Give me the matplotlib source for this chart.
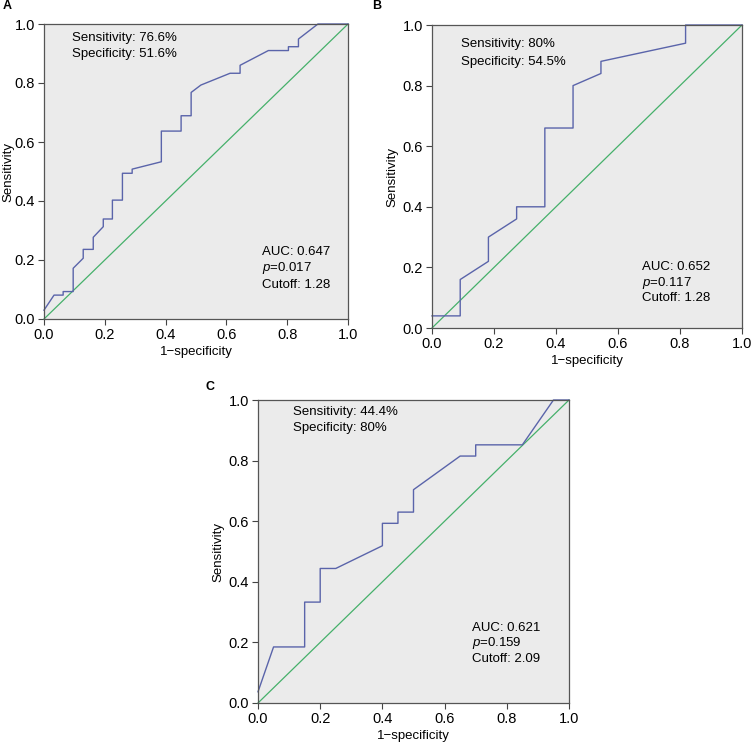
import numpy as np
import matplotlib
matplotlib.use("Agg")
import matplotlib.pyplot as plt

plt.rcParams['font.family'] = ['Liberation Sans', 'DejaVu Sans']
plt.rcParams['mathtext.fontset'] = 'custom'
plt.rcParams['mathtext.it'] = 'Liberation Sans:italic'
plt.rcParams['mathtext.rm'] = 'Liberation Sans'

# ROC points (1-specificity, sensitivity)
fpr_a = [0, 0.033, 0.063, 0.063, 0.096, 0.096, 0.129, 0.129, 0.162, 0.162, 0.195, 0.195,
         0.225, 0.225, 0.258, 0.258, 0.290, 0.290, 0.386, 0.386, 0.451, 0.451, 0.484, 0.484,
         0.516, 0.612, 0.645, 0.645, 0.738, 0.804, 0.804, 0.837, 0.837, 0.901, 1.0]
tpr_a = [0.03, 0.081, 0.081, 0.093, 0.093, 0.172, 0.206, 0.236, 0.236, 0.277, 0.313, 0.339,
         0.339, 0.403, 0.403, 0.494, 0.494, 0.508, 0.533, 0.637, 0.637, 0.689, 0.689, 0.768,
         0.793, 0.833, 0.833, 0.860, 0.910, 0.910, 0.923, 0.923, 0.949, 1.0, 1.0]

fpr_b = [0, 0.091, 0.091, 0.182, 0.182, 0.273, 0.273, 0.364, 0.364, 0.455, 0.455,
         0.545, 0.545, 0.818, 0.818, 1.0]
tpr_b = [0.04, 0.04, 0.16, 0.22, 0.30, 0.36, 0.40, 0.40, 0.66, 0.66, 0.80,
         0.84, 0.88, 0.94, 1.0, 1.0]

fpr_c = [0, 0.05, 0.15, 0.15, 0.20, 0.20, 0.25, 0.40, 0.40, 0.45, 0.45, 0.50, 0.50,
         0.65, 0.70, 0.70, 0.85, 0.95, 1.0]
tpr_c = [0.037, 0.185, 0.185, 0.333, 0.333, 0.444, 0.444, 0.519, 0.593, 0.593, 0.630,
         0.630, 0.704, 0.815, 0.815, 0.852, 0.852, 1.0, 1.0]

top_notes = [["Sensitivity: 76.6%", "Specificity: 51.6%"],
             ["Sensitivity: 80%", "Specificity: 54.5%"],
             ["Sensitivity: 44.4%", "Specificity: 80%"]]
bottom_notes = [["AUC: 0.647", "$p$=0.017", "Cutoff: 1.28"],
                ["AUC: 0.652", "$p$=0.117", "Cutoff: 1.28"],
                ["AUC: 0.621", "$p$=0.159", "Cutoff: 2.09"]]
letters = ["A", "B", "C"]

W, H = 752, 744
fig = plt.figure(figsize=(W / 100, H / 100), dpi=100)

# axes boxes in pixels: left, right, top, bottom
boxes = [(44, 348, 24, 319), (432, 742, 25, 328), (258, 569, 400, 703)]
top_pos = [(0.093, 0.952, 0.898), (0.093, 0.937, 0.879), (0.111, 0.959, 0.907)]
bot_pos = [(0.718, 0.227, 0.173, 0.115), (0.676, 0.202, 0.149, 0.098), (0.689, 0.249, 0.198, 0.145)]
ylab_off = [36, 40, 40]
letter_pos = [(3, 6), (372, 6), (205, 387)]
curves = [(fpr_a, tpr_a), (fpr_b, tpr_b), (fpr_c, tpr_c)]

for i in range(3):
    l, r, t, b = boxes[i]
    ax = fig.add_axes([l / W, 1 - b / H, (r - l) / W, (b - t) / H])
    ax.set_facecolor('#ebebeb')
    ax.plot([0, 1], [0, 1], color='#45b06a', lw=0.9, clip_on=False)
    ax.plot(curves[i][0], curves[i][1], color='#5a64aa', lw=1.0, clip_on=False)
    ax.set_xlim(0, 1)
    ax.set_ylim(0, 1)
    ticks = np.arange(0, 1.01, 0.2)
    ax.set_xticks(ticks)
    ax.set_yticks(ticks)
    ax.set_xticklabels(['%.1f' % v for v in ticks])
    ax.set_yticklabels(['%.1f' % v for v in ticks])
    ax.tick_params(labelsize=10.5, length=4, width=0.8, color='#444444')
    ax.tick_params(axis='x', pad=2.5)
    ax.tick_params(axis='y', pad=2.5)
    for s in ax.spines.values():
        s.set_color('#555555')
        s.set_linewidth(0.9)
    ax.set_xlabel('1\u2212specificity', fontsize=9.5, labelpad=3)
    ax.set_ylabel('Sensitivity', fontsize=9.5, va='center')
    ax.yaxis.set_label_coords(-ylab_off[i] / (r - l), 0.5)

    x0, y1, y2 = top_pos[i]
    ax.text(x0, y1, top_notes[i][0], transform=ax.transAxes, fontsize=9.5, va='center')
    ax.text(x0, y2, top_notes[i][1], transform=ax.transAxes, fontsize=9.5, va='center')
    bx = bot_pos[i][0]
    for j in range(3):
        ax.text(bx, bot_pos[i][j + 1], bottom_notes[i][j], transform=ax.transAxes,
                fontsize=9.5, va='center')

    lx, ly = letter_pos[i]
    fig.text(lx / W, 1 - ly / H, letters[i], fontsize=9, fontweight='bold', va='center')

fig.savefig('out.png', dpi=100)
